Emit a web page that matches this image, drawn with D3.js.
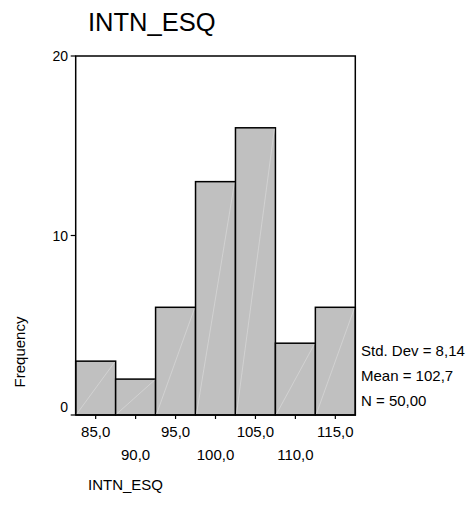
<!DOCTYPE html>
<html><head><meta charset="utf-8">
<script src="https://cdn.jsdelivr.net/npm/d3@7"></script>
<style>body{margin:0;background:#fff}svg{display:block}text{font-family:"Liberation Sans",Arial,sans-serif;fill:#000}</style>
</head><body>
<script>
const binCenters = [85, 90, 95, 100, 105, 110, 115];
const counts = [3, 2, 6, 13, 16, 4, 6];
const binWidth = 5;
const yTicks = [0, 10, 20];
const xTickLabels = ["85,0","90,0","95,0","100,0","105,0","110,0","115,0"];
const statsLines = ["Std. Dev = 8,14", "Mean = 102,7", "N = 50,00"];
const title = "INTN_ESQ";
const xTitle = "INTN_ESQ";
const yTitle = "Frequency";

const W = 473, H = 518;
const svg = d3.select("body").append("svg").attr("width", W).attr("height", H);
const x = d3.scaleLinear().domain([82.5, 117.5]).range([75.7, 355.3]);
const y = d3.scaleLinear().domain([0, 20]).range([415, 56]);

svg.append("text").attr("x", 88).attr("y", 31).attr("font-size", 25.5).text(title);

// bars
const g = svg.append("g");
binCenters.forEach((c, i) => {
  const x0 = x(c - binWidth / 2), x1 = x(c + binWidth / 2), yt = y(counts[i]), yb = y(0);
  g.append("rect").attr("x", x0).attr("y", yt).attr("width", x1 - x0).attr("height", yb - yt)
    .attr("fill", "#c0c0c0").attr("stroke", "#000").attr("stroke-width", 1.5);
  g.append("line").attr("x1", x0 + 1).attr("y1", yb - 1).attr("x2", x1 - 1).attr("y2", yt + 1)
    .attr("stroke", "#d6d6d6").attr("stroke-width", 0.8);
});

// frame
svg.append("path")
  .attr("d", `M${x(82.5)},${y(0)}V${y(20)}H${x(117.5)}V${y(0)}H${x(82.5)}`)
  .attr("fill", "none").attr("stroke", "#000").attr("stroke-width", 1.5);

// y axis ticks
yTicks.forEach(v => {
  svg.append("line").attr("x1", x(82.5) - 5).attr("x2", x(82.5)).attr("y1", y(v)).attr("y2", y(v))
    .attr("stroke", "#000").attr("stroke-width", 1.2);
  svg.append("text").attr("x", 68).attr("y", v === 0 ? y(v) - 3 : y(v) + 5)
    .attr("text-anchor", "end").attr("font-size", 14).text(v);
});

// x axis ticks
binCenters.forEach((c, i) => {
  svg.append("line").attr("x1", x(c)).attr("x2", x(c)).attr("y1", y(0)).attr("y2", y(0) + 4)
    .attr("stroke", "#000").attr("stroke-width", 1.2);
  svg.append("text").attr("x", x(c)).attr("y", i % 2 === 0 ? 437 : 460)
    .attr("text-anchor", "middle").attr("font-size", 15).text(xTickLabels[i]);
});

// stats
statsLines.forEach((s, i) => {
  svg.append("text").attr("x", 361).attr("y", 356 + i * 25).attr("font-size", 15).text(s);
});

svg.append("text").attr("x", 88).attr("y", 490).attr("font-size", 15).text(xTitle);
svg.append("text").attr("transform", "translate(25,352) rotate(-90)").attr("text-anchor", "middle")
  .attr("font-size", 15).text(yTitle);
</script>
</body></html>
